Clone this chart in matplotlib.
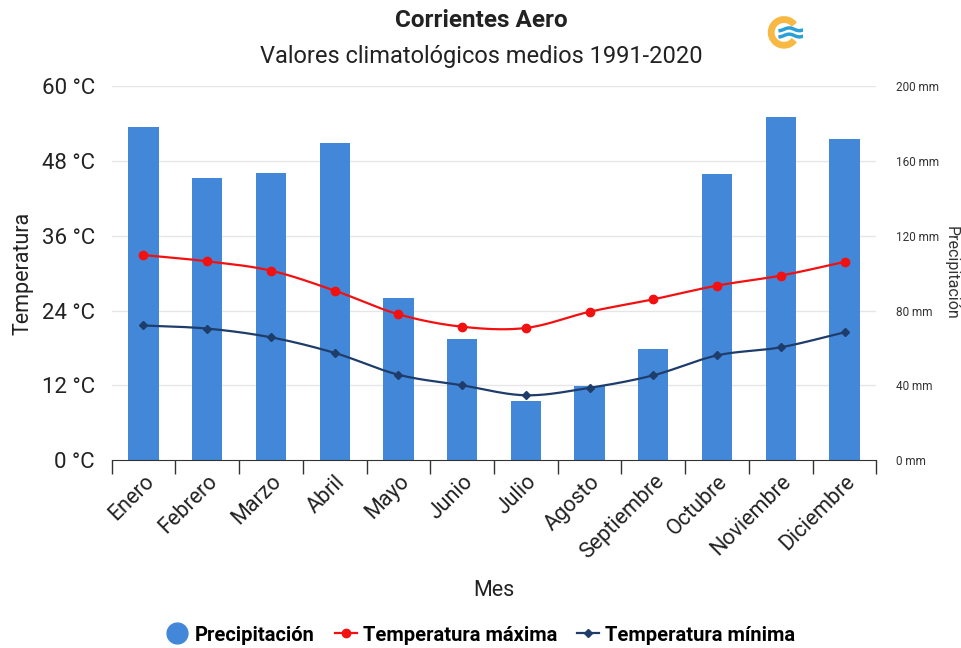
import numpy as np
import matplotlib
matplotlib.use('Agg')
import matplotlib.pyplot as plt
from matplotlib.lines import Line2D
from matplotlib.patches import Wedge

plt.rcParams['font.family'] = ['Roboto', 'DejaVu Sans']

meses = ['Enero', 'Febrero', 'Marzo', 'Abril', 'Mayo', 'Junio', 'Julio',
         'Agosto', 'Septiembre', 'Octubre', 'Noviembre', 'Diciembre']
precip = [178.2, 151.0, 153.6, 169.4, 86.8, 64.7, 31.7, 39.6, 59.4, 152.8, 183.6, 171.7]
tmax = [32.9, 31.9, 30.4, 27.2, 23.4, 21.4, 21.2, 23.8, 25.8, 28.0, 29.6, 31.8]
tmin = [21.6, 21.1, 19.7, 17.2, 13.7, 12.0, 10.4, 11.6, 13.6, 16.8, 18.1, 20.5]

azul = '#4388d8'
rojo = '#f21010'
marino = '#1f3d6b'


def spline(y, n=20):
    # curva suave tipo Catmull-Rom por los puntos dados
    y = np.asarray(y, dtype=float)
    x = np.arange(len(y), dtype=float)
    m = np.gradient(y)
    xs, ys = [], []
    for i in range(len(y) - 1):
        t = np.linspace(0, 1, n, endpoint=False)
        h00 = 2*t**3 - 3*t**2 + 1
        h10 = t**3 - 2*t**2 + t
        h01 = -2*t**3 + 3*t**2
        h11 = t**3 - t**2
        xs.append(x[i] + t)
        ys.append(h00*y[i] + h10*m[i] + h01*y[i+1] + h11*m[i+1])
    xs.append([x[-1]])
    ys.append([y[-1]])
    return np.concatenate(xs), np.concatenate(ys)


fig = plt.figure(figsize=(9.62, 6.48), dpi=100)
ax = fig.add_axes([0.116, 0.290, 0.795, 0.577])
ax2 = ax.twinx()

x = np.arange(len(meses))
ax2.bar(x, precip, width=0.475, color=azul, zorder=1)
ax2.set_ylim(0, 200)
ax2.set_yticks([0, 40, 80, 120, 160, 200])
ax2.set_yticklabels([f'{v} mm' for v in [0, 40, 80, 120, 160, 200]], fontsize=8.5, color='#333333')
ax2.tick_params(axis='y', length=0, pad=14)
ax2.set_ylabel('Precipitación', rotation=270, fontsize=11.5, color='#333333', labelpad=14)

# la temperatura va por encima de las barras
ax.set_zorder(ax2.get_zorder() + 1)
ax.patch.set_visible(False)
ax2.patch.set_visible(True)
ax2.patch.set_facecolor('white')

sx, sy = spline(tmax)
ax.plot(sx, sy, color=rojo, lw=1.6, zorder=3)
ax.plot(x, tmax, 'o', color=rojo, ms=6, zorder=4)
sx, sy = spline(tmin)
ax.plot(sx, sy, color=marino, lw=1.6, zorder=3)
ax.plot(x, tmin, 'D', color=marino, ms=4, zorder=4)

ax.set_ylim(0, 60)
ax.set_xlim(-0.5, 11.5)
ax.set_yticks(range(0, 61, 12))
ax.set_yticklabels([f'{v} °C' for v in range(0, 61, 12)], fontsize=16, color='#222222')
ax.tick_params(axis='y', length=0, pad=12)
ax.set_ylabel('Temperatura', fontsize=15.5, color='#222222', labelpad=6)

# rejilla en el eje secundario (detrás de todo)
for v in range(40, 201, 40):
    ax2.axhline(v, color='#e6e6e6', lw=1, zorder=0)

ax.set_xticks(x)
ax.set_xticklabels(meses, rotation=45, ha='right', rotation_mode='anchor', fontsize=15.5, color='#222222')
ax.tick_params(axis='x', length=0, pad=8)
ax.set_xticks(np.arange(-0.5, 12, 1), minor=True)
ax.tick_params(axis='x', which='minor', length=10, color='#333333', width=1)
ax.set_xlabel('Mes', fontsize=15.5, color='#222222', labelpad=12)

for a in (ax, ax2):
    for s in ('top', 'left', 'right'):
        a.spines[s].set_visible(False)
ax.spines['bottom'].set_color('#333333')
ax2.spines['bottom'].set_visible(False)

fig.text(0.5, 0.968, 'Corrientes Aero', ha='center', va='center', fontsize=17.5, fontweight='bold', color='#222222')
fig.text(0.5, 0.913, 'Valores climatológicos medios 1991-2020', ha='center', va='center', fontsize=17, color='#222222')

# leyenda
handles = [
    Line2D([], [], marker='o', ls='', color=azul, ms=15),
    Line2D([], [], marker='o', color=rojo, lw=1.6, ms=6),
    Line2D([], [], marker='D', color=marino, lw=1.6, ms=4),
]
labels = ['Precipitación', 'Temperatura máxima', 'Temperatura mínima']
fig.legend(handles, labels, loc='center', bbox_to_anchor=(0.5, 0.02), ncol=3, frameon=False,
           prop={'size': 14.5, 'weight': 'bold'}, handlelength=1.1, handletextpad=0.3, columnspacing=1.0)

# logo
lax = fig.add_axes([0.79, 0.92, 0.05, 0.06])
lax.set_xlim(-1, 1)
lax.set_ylim(-1, 1)
lax.set_aspect('equal')
lax.axis('off')
lax.add_patch(Wedge((0, 0), 0.8, 40, 320, width=0.28, color='#f7b844'))
wx = np.linspace(-0.2, 0.9, 30)
lax.plot(wx, 0.16 + 0.07*np.sin(wx*6), color='#2a9fd8', lw=2.5)
lax.plot(wx, -0.16 + 0.07*np.sin(wx*6), color='#2a9fd8', lw=2.5)

plt.savefig('out.png', dpi=100)
